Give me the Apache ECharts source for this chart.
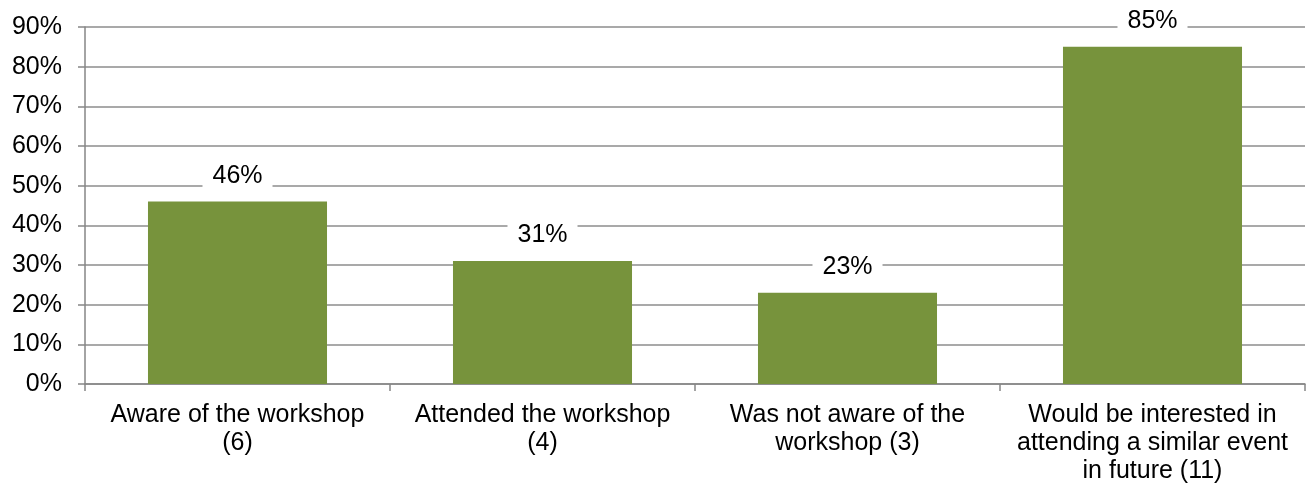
<!DOCTYPE html>
<html>
<head>
<meta charset="utf-8">
<script src="https://cdn.jsdelivr.net/npm/echarts@6/dist/echarts.min.js"></script>
<style>
  html, body { margin: 0; padding: 0; background: #fff; }
  #chart { width: 1307px; height: 489px; }
</style>
</head>
<body>
<div id="chart"></div>
<script>
// categories and values
var categories = [
  'Aware of the workshop\n(6)',
  'Attended the workshop\n(4)',
  'Was not aware of the\nworkshop (3)',
  'Would be interested in\nattending a similar event\nin future (11)'
];
var values = [46, 31, 23, 85];

var font = 'Liberation Sans, Arial, sans-serif';

var myChart = echarts.init(document.getElementById('chart'));
var option = {
  animation: false,
  grid: { left: 85, right: 2, top: 27, bottom: 105 },
  xAxis: {
    type: 'category',
    data: categories,
    axisLine: { lineStyle: { color: '#868686', width: 1.5 } },
    axisTick: { show: true, length: 7, lineStyle: { color: '#868686', width: 1.5 } },
    axisLabel: {
      interval: 0,
      margin: 17,
      color: '#000',
      fontFamily: font,
      fontSize: 25,
      lineHeight: 28
    }
  },
  yAxis: {
    type: 'value',
    min: 0,
    max: 90,
    interval: 10,
    axisLine: { show: true, lineStyle: { color: '#868686', width: 1.5 } },
    axisTick: { show: true, length: 7, lineStyle: { color: '#868686', width: 1.5 } },
    axisLabel: {
      margin: 23,
      color: '#000',
      fontFamily: font,
      fontSize: 25,
      formatter: '{value}%'
    },
    splitLine: { show: true, lineStyle: { color: '#8c8c8c', width: 1.5 } }
  },
  series: [{
    type: 'bar',
    data: values,
    barWidth: '58.7%',
    itemStyle: { color: '#77933C' },
    label: {
      show: true,
      position: 'top',
      distance: 13,
      formatter: '{c}%',
      color: '#000',
      fontFamily: font,
      fontSize: 25,
      lineHeight: 25,
      backgroundColor: '#fff',
      padding: [0, 10]
    }
  }]
};
myChart.setOption(option);
</script>
</body>
</html>
